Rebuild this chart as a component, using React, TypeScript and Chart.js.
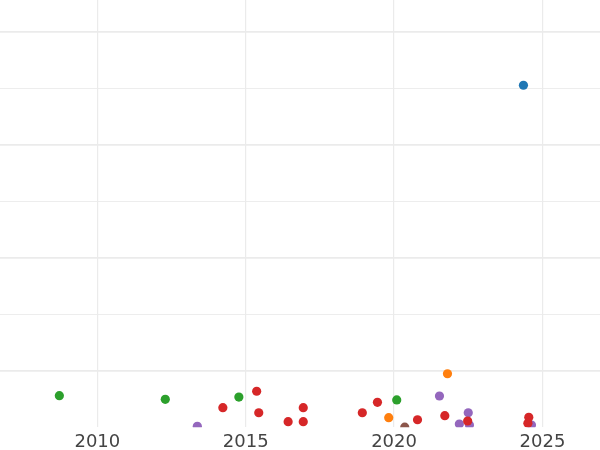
import React, { useEffect, useRef } from "react";
import { Chart, registerables } from "chart.js";

Chart.register(...registerables);

// Years (x) and values (y) for each colour group
const blueYears = [2024.36];
const blueValues = [3.526];

const orangeYears = [2019.82, 2021.8];
const orangeValues = [0.584, 0.973];

const greenYears = [2008.72, 2012.29, 2014.77, 2020.09];
const greenValues = [0.779, 0.747, 0.767, 0.741];

const redYears = [
  2014.23, 2015.37, 2015.44, 2016.43, 2016.94, 2016.94, 2018.93, 2019.44,
  2020.79, 2021.71, 2022.48, 2024.54, 2024.51,
];
const redValues = [
  0.673, 0.818, 0.628, 0.549, 0.673, 0.549, 0.628, 0.72, 0.566, 0.602, 0.555,
  0.588, 0.535,
];

const purpleYears = [2013.37, 2021.53, 2022.2, 2022.5, 2022.54, 2024.63];
const purpleValues = [0.508, 0.776, 0.528, 0.628, 0.519, 0.519];

const brownYears = [2020.36];
const brownValues = [0.5];

const xTickStep = 5;
const xMin = 2006.72;
const xMax = 2026.94;
const yMin = 0.5;
const yMax = 4.2805;

const toPoints = (xs: number[], ys: number[]) =>
  xs.map((x, i) => ({ x, y: ys[i] }));

export default function App() {
  const ref = useRef<HTMLCanvasElement | null>(null);

  useEffect(() => {
    document.body.style.margin = "0";
    const canvas = ref.current;
    if (!canvas) return;
    const mk = (label: string, xs: number[], ys: number[], color: string) => ({
      label,
      data: toPoints(xs, ys),
      backgroundColor: color,
      borderColor: color,
      borderWidth: 0,
      pointRadius: 4.6,
      pointHoverRadius: 4.6,
      showLine: false,
      clip: 0,
    });
    const chart = new Chart(canvas, {
      type: "scatter",
      data: {
        datasets: [
          mk("blue", blueYears, blueValues, "#1f77b4"),
          mk("orange", orangeYears, orangeValues, "#ff7f0e"),
          mk("green", greenYears, greenValues, "#2ca02c"),
          mk("red", redYears, redValues, "#d62728"),
          mk("purple", purpleYears, purpleValues, "#9467bd"),
          mk("brown", brownYears, brownValues, "#8c564b"),
        ],
      },
      options: {
        animation: false,
        responsive: false,
        maintainAspectRatio: false,
        layout: {
          autoPadding: false,
          padding: 0,
        },
        plugins: {
          legend: { display: false },
          tooltip: { enabled: false },
        },
        scales: {
          x: {
            type: "linear",
            min: xMin,
            max: xMax,
            border: { display: false },
            afterFit: (s: any) => {
              s.height = 22.8;
            },
            grid: {
              color: "#ebebeb",
              lineWidth: 1.2,
              drawTicks: false,
            },
            ticks: {
              stepSize: xTickStep,
              includeBounds: false,
              padding: 4.5,
              maxRotation: 0,
              autoSkip: false,
              color: "#444444",
              font: { family: "DejaVu Sans", size: 18 },
              callback: (v: any) => String(v),
            },
          },
          y: {
            type: "linear",
            min: yMin,
            max: yMax,
            border: { display: false },
            grid: {
              color: (ctx: any) =>
                ctx.tick?.value <= yMin ? "rgba(0,0,0,0)" : "#ebebeb",
              lineWidth: (ctx: any) =>
                Number.isInteger(ctx.tick?.value) ? 1.8 : 0.9,
              drawTicks: false,
            },
            ticks: {
              display: false,
              stepSize: 0.5,
              includeBounds: false,
            },
          },
        },
      },
    } as any);
    return () => chart.destroy();
  }, []);

  return (
    <div style={{ position: "relative", width: 600, height: 450 }}>
      <canvas ref={ref} width={600} height={450} style={{ display: "block" }} />
    </div>
  );
}
